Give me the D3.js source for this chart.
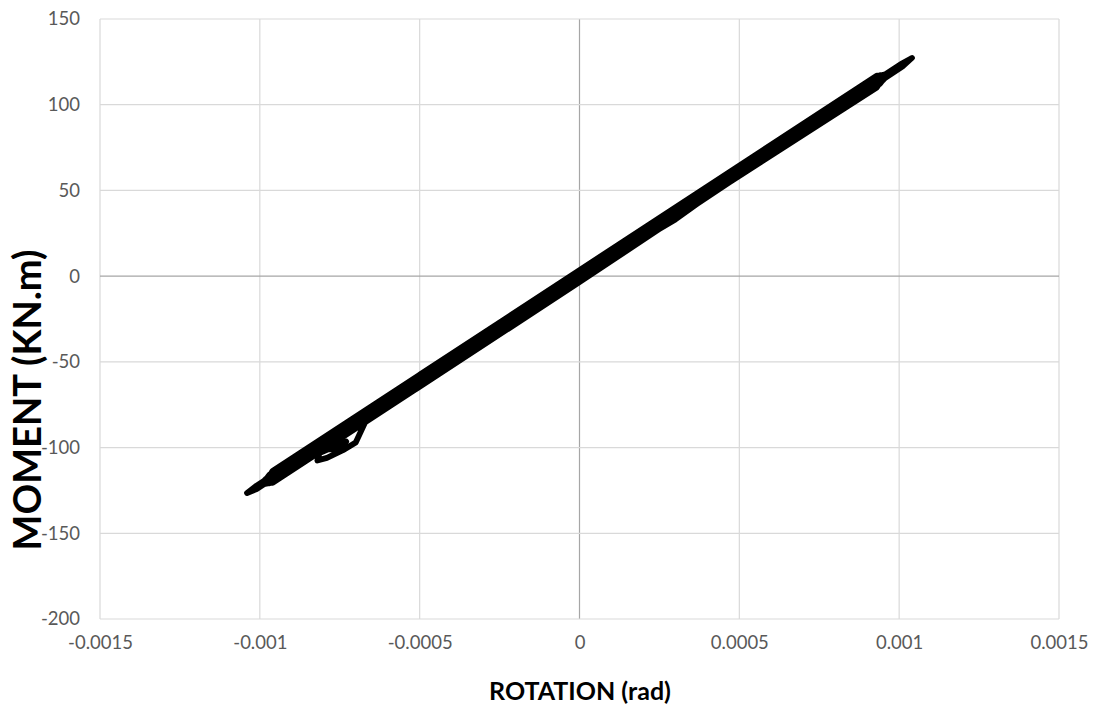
<!DOCTYPE html>
<html>
<head>
<meta charset="utf-8">
<script src="https://cdn.jsdelivr.net/npm/d3@7"></script>
<style>
  html, body { margin: 0; padding: 0; background: #ffffff; }
  svg { display: block; }
  .tick-label { font-family: Lato, "Open Sans", sans-serif; font-size: 18.5px; fill: #595959; }
  .axis-title { font-family: Lato, "Open Sans", sans-serif; font-weight: 700; fill: #000000; }
</style>
</head>
<body>
<svg id="chart" width="1096" height="716"></svg>
<script>
// Cyclic moment–rotation record (rotation in rad, moment in kN.m), traced in order.
const rotation = [
  0.00000, 0.00030, 0.00060, 0.00050, 0.00000, -0.00050, -0.00061, -0.00051, 0.00000,
  0.00040, 0.00080, 0.00070, 0.00000, -0.00070, -0.00082, -0.00072, 0.00000,
  0.00093, 0.00095, 0.00093, 0.00000, -0.00096, -0.00098, -0.00096, 0.00000,
  0.00095, 0.00097, 0.00095, 0.00000, -0.00098, -0.00100, -0.00098, 0.00000,
  0.00094, 0.00096, 0.00094, 0.00000, -0.00060, -0.00066, -0.00070, -0.00074, -0.00079, -0.00082,
  -0.00081, -0.00076, -0.00073, -0.00097, -0.00099, -0.00097, 0.00000,
  0.00101, 0.00104, 0.00101, 0.00000, -0.00101, -0.00104, -0.00101, 0.00000
];
const moment = [
  0.0, 33.1, 73.2, 64.5, 3.5, -57.5, -74.4, -65.7, -3.5,
  47.3, 97.6, 86.9, 1.5, -83.9, -100.0, -89.3, -1.5,
  110.0, 115.9, 117.0, 3.5, -113.6, -119.6, -120.6, -3.5,
  114.4, 118.3, 117.4, 1.5, -118.1, -122.0, -121.1, -1.5,
  112.2, 117.1, 117.2, 2.5, -70.7, -81.0, -97.0, -101.5, -106.0, -107.5,
  -101.0, -101.0, -96.5, -115.8, -120.8, -120.8, -2.5,
  122.2, 127.3, 124.2, 1.0, -122.2, -126.5, -124.2, 0.0
];

// Axis ticks
const xTicks = [-0.0015, -0.001, -0.0005, 0, 0.0005, 0.001, 0.0015];
const yTicks = [-200, -150, -100, -50, 0, 50, 100, 150];

const svg = d3.select("#chart");
const plot = { left: 100, right: 1059, top: 19, bottom: 619 };

const x = d3.scaleLinear().domain([-0.0015, 0.0015]).range([plot.left, plot.right]);
const y = d3.scaleLinear().domain([-200, 150]).range([plot.bottom, plot.top]);

const fmtX = v => (v === 0 ? "0" : String(+v.toFixed(4)));
const fmtY = v => String(v);

// Gridlines (zero lines a shade darker)
const grid = svg.append("g");
grid.selectAll("line.vg").data(xTicks).join("line")
  .attr("x1", d => x(d)).attr("x2", d => x(d))
  .attr("y1", plot.top).attr("y2", plot.bottom)
  .attr("stroke", d => d === 0 ? "#a6a6a6" : "#d9d9d9")
  .attr("stroke-width", 1.2);
grid.selectAll("line.hg").data(yTicks).join("line")
  .attr("x1", plot.left).attr("x2", plot.right)
  .attr("y1", d => y(d)).attr("y2", d => y(d))
  .attr("stroke", d => d === 0 ? "#a6a6a6" : "#d9d9d9")
  .attr("stroke-width", 1.2);

// Y axis labels
const yAxis = d3.axisLeft(y).tickValues(yTicks).tickSize(0).tickPadding(20).tickFormat(fmtY);
const gy = svg.append("g").attr("transform", `translate(${plot.left},0)`).call(yAxis);
gy.select(".domain").remove();
gy.selectAll("text").attr("class", "tick-label").attr("font-size", null).attr("font-family", null);

// X axis labels
const xAxis = d3.axisBottom(x).tickValues(xTicks).tickSize(0).tickPadding(17).tickFormat(fmtX);
const gx = svg.append("g").attr("transform", `translate(0,${plot.bottom})`).call(xAxis);
gx.select(".domain").remove();
gx.selectAll("text").attr("class", "tick-label").attr("font-size", null).attr("font-family", null);

// Hysteresis trace
const pts = rotation.map((r, i) => [r, moment[i]]);
const line = d3.line().x(d => x(d[0])).y(d => y(d[1]));
svg.append("path")
  .datum(pts)
  .attr("d", line)
  .attr("fill", "none")
  .attr("stroke", "#000000")
  .attr("stroke-width", 5.8)
  .attr("stroke-linejoin", "round")
  .attr("stroke-linecap", "round");

// Axis titles
svg.append("text")
  .attr("class", "axis-title")
  .attr("x", 580).attr("y", 700)
  .attr("text-anchor", "middle")
  .attr("font-size", 25)
  .text("ROTATION (rad)");

svg.append("text")
  .attr("class", "axis-title")
  .attr("transform", "translate(41,400) rotate(-90)")
  .attr("text-anchor", "middle")
  .attr("font-size", 38)
  .text("MOMENT (KN.m)");
</script>
</body>
</html>
